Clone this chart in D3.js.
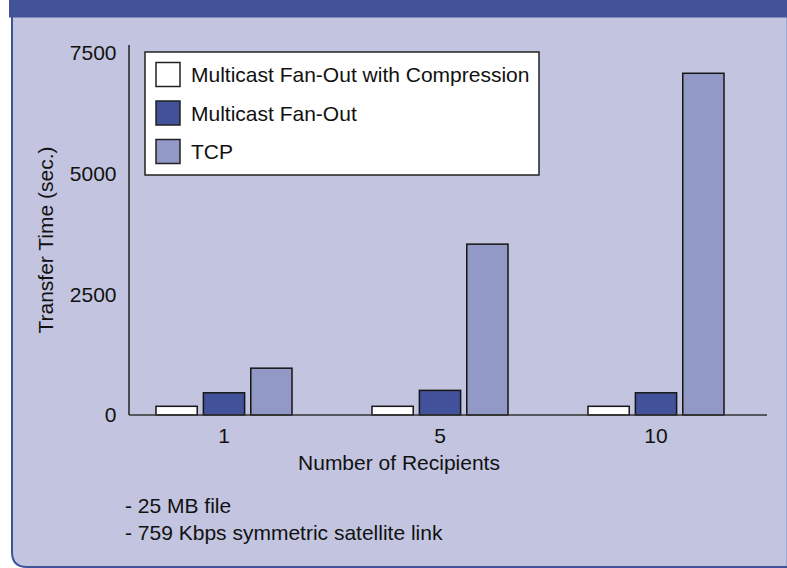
<!DOCTYPE html>
<html>
<head>
<meta charset="utf-8">
<script src="https://cdn.jsdelivr.net/npm/d3@7/dist/d3.min.js"></script>
<style>
  html, body { margin: 0; padding: 0; background: #ffffff; }
  svg { display: block; }
  text { font-family: "Liberation Sans", Arial, Helvetica, sans-serif; fill: #111; }
</style>
</head>
<body>
<svg id="chart" width="787" height="568"></svg>
<script>
// Transfer time (seconds) by number of recipients
const recipients = ["1", "5", "10"];
const seriesNames = ["Multicast Fan-Out with Compression", "Multicast Fan-Out", "TCP"];
const compressedFanOut = [180, 180, 180];
const fanOut = [460, 510, 460];
const tcp = [970, 3540, 7080];
const yTicks = [0, 2500, 5000, 7500];
const notes = ["- 25 MB file", "- 759 Kbps symmetric satellite link"];

const seriesValues = [compressedFanOut, fanOut, tcp];
const fills = ["#ffffff", "#42529a", "#9399c7"];

const svg = d3.select("#chart");
const fontSize = 21;

// Panel with header band
const panelColor = "#c3c5e0";
const frameColor = "#42539a";
const left = 12, bottom = 567, right = 792, r = 15;
svg.append("path")
  .attr("d", `M${left},0 V${bottom - r} Q${left},${bottom} ${left + r},${bottom} H${right} V0 Z`)
  .attr("fill", panelColor)
  .attr("stroke", frameColor)
  .attr("stroke-width", 2);
svg.append("line")
  .attr("x1", 786.5).attr("x2", 786.5)
  .attr("y1", 17).attr("y2", 566)
  .attr("stroke", "#a0a4d0").attr("stroke-width", 1);
svg.append("rect")
  .attr("x", 9).attr("y", 0).attr("width", 778).attr("height", 17.5)
  .attr("fill", frameColor);

// Scales
const y = d3.scaleLinear().domain([0, 7500]).range([415, 53]);
const x0 = d3.scaleBand().domain(recipients).range([116, 764]);
const x1 = d3.scaleBand().domain(seriesNames).range([40, 176]).paddingInner(0.13);

const axisX = 129, axisRight = 767, axisTop = 45;

// Bars
const groups = svg.append("g").selectAll("g")
  .data(recipients)
  .join("g")
  .attr("transform", d => `translate(${x0(d)},0)`);

groups.selectAll("rect")
  .data((d, i) => seriesNames.map((s, k) => ({ s, k, v: seriesValues[k][i] })))
  .join("rect")
  .attr("x", d => x1(d.s))
  .attr("width", x1.bandwidth())
  .attr("y", d => y(d.v))
  .attr("height", d => y(0) - y(d.v))
  .attr("fill", d => fills[d.k])
  .attr("stroke", "#151515")
  .attr("stroke-width", 1.5);

// Axis lines
svg.append("line")
  .attr("x1", axisX).attr("x2", axisX)
  .attr("y1", axisTop).attr("y2", y(0))
  .attr("stroke", "#222").attr("stroke-width", 1.5);
svg.append("line")
  .attr("x1", axisX).attr("x2", axisRight)
  .attr("y1", y(0)).attr("y2", y(0))
  .attr("stroke", "#333").attr("stroke-width", 1.5);

// Y axis labels
const yAxis = svg.append("g")
  .attr("transform", `translate(${axisX},0)`)
  .call(d3.axisLeft(y).tickValues(yTicks).tickSize(0).tickPadding(12.5).tickFormat(d3.format("d")));
yAxis.select(".domain").remove();
yAxis.selectAll("text")
  .attr("font-size", fontSize)
  .style("font-family", "\"Liberation Sans\", Arial, Helvetica, sans-serif")
  .attr("fill", "#111");

// X axis labels
const xAxis = svg.append("g")
  .attr("transform", `translate(0,${y(0)})`)
  .call(d3.axisBottom(x0).tickSize(0).tickPadding(13.5));
xAxis.select(".domain").remove();
xAxis.selectAll("text")
  .attr("font-size", fontSize)
  .style("font-family", "\"Liberation Sans\", Arial, Helvetica, sans-serif")
  .attr("fill", "#111");

// Axis titles
svg.append("text")
  .attr("x", 399).attr("y", 470)
  .attr("text-anchor", "middle")
  .attr("font-size", fontSize)
  .text("Number of Recipients");

svg.append("text")
  .attr("transform", "translate(53,240) rotate(-90)")
  .attr("text-anchor", "middle")
  .attr("font-size", fontSize)
  .text("Transfer Time (sec.)");

// Legend
const legend = svg.append("g").attr("transform", "translate(145,52)");
legend.append("rect")
  .attr("width", 394).attr("height", 123)
  .attr("fill", "#ffffff")
  .attr("stroke", "#222").attr("stroke-width", 1.5);
const items = legend.selectAll("g.item")
  .data(seriesNames)
  .join("g")
  .attr("class", "item")
  .attr("transform", (d, i) => `translate(11,${10.5 + i * 38.5})`);
items.append("rect")
  .attr("width", 24).attr("height", 24)
  .attr("fill", (d, i) => fills[i])
  .attr("stroke", "#222").attr("stroke-width", 1.5);
items.append("text")
  .attr("x", 35).attr("y", 19.5)
  .attr("font-size", fontSize)
  .text(d => d);

// Notes
svg.append("g").selectAll("text")
  .data(notes)
  .join("text")
  .attr("x", 125)
  .attr("y", (d, i) => 513 + i * 27)
  .attr("font-size", fontSize)
  .text(d => d);
</script>
</body>
</html>
